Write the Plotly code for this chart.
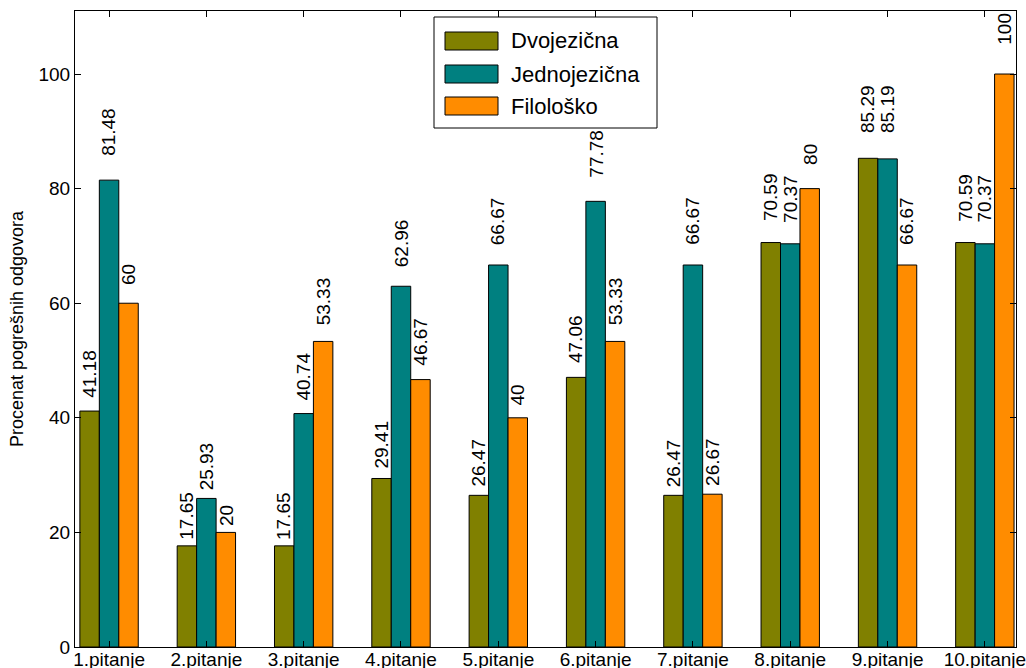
import plotly.graph_objects as go

categories = ["1.pitanje", "2.pitanje", "3.pitanje", "4.pitanje", "5.pitanje",
              "6.pitanje", "7.pitanje", "8.pitanje", "9.pitanje", "10.pitanje"]
dvojezicna = [41.18, 17.65, 17.65, 29.41, 26.47, 47.06, 26.47, 70.59, 85.29, 70.59]
jednojezicna = [81.48, 25.93, 40.74, 62.96, 66.67, 77.78, 66.67, 70.37, 85.19, 70.37]
filolosko = [60, 20, 53.33, 46.67, 40, 53.33, 26.67, 80, 66.67, 100]
y_ticks = [0, 20, 40, 60, 80, 100]
series_names = ["Dvojezična", "Jednojezična", "Filološko"]
series_colors = ["#808000", "#008080", "#FF8C00"]

FONT = "Liberation Sans, Arial, Helvetica, sans-serif"
W, H = 1026, 668
ML, MR, MT, MB = 75, 10, 11, 21
PW, PH = W - ML - MR, H - MT - MB


def px_x(p):
    return (p - ML) / PW


def px_y(p):
    return (H - MB - p) / PH


fig = go.Figure()
annotations = []
shapes = []
offsets = [-0.2, 0.0, 0.2]
all_vals = [dvojezicna, jednojezicna, filolosko]
for name, vals, color, off in zip(series_names, all_vals, series_colors, offsets):
    fig.add_trace(go.Bar(
        x=categories, y=vals, name=name, showlegend=False,
        marker=dict(color=color, line=dict(color="black", width=1)),
    ))
    for i, v in enumerate(vals):
        annotations.append(dict(
            x=i + off, y=v * 1.05, xref="x", yref="y",
            text=f"{v:g}", textangle=-90, showarrow=False,
            xanchor="center", yanchor="bottom", borderpad=0,
            font=dict(family=FONT, size=19, color="black"),
        ))

# legend drawn as a matplotlib-style box
shapes.append(dict(type="rect", xref="paper", yref="paper",
                   x0=px_x(434), x1=px_x(657), y0=px_y(128), y1=px_y(17),
                   line=dict(color="black", width=1), fillcolor="white", layer="above"))
row_centers = [41, 74, 106]
for name, color, cy in zip(series_names, series_colors, row_centers):
    shapes.append(dict(type="rect", xref="paper", yref="paper",
                       x0=px_x(445), x1=px_x(498), y0=px_y(cy + 9), y1=px_y(cy - 9),
                       line=dict(color="black", width=1), fillcolor=color, layer="above"))
    annotations.append(dict(
        x=px_x(509), y=px_y(cy), xref="paper", yref="paper",
        text=name, showarrow=False, xanchor="left", yanchor="middle",
        font=dict(family=FONT, size=22, color="black"),
    ))

fig.update_layout(
    width=W, height=H,
    margin=dict(l=ML, r=MR, t=MT, b=MB),
    paper_bgcolor="white", plot_bgcolor="white",
    barmode="group", bargap=0.4, bargroupgap=0,
    font=dict(family=FONT, size=19, color="black"),
    annotations=annotations, shapes=shapes,
    showlegend=False,
    xaxis=dict(
        range=[-0.35, 9.32], showgrid=False, zeroline=False, automargin=False,
        showline=True, linecolor="black", linewidth=1, mirror="allticks",
        ticks="inside", ticklen=6, tickcolor="black", ticklabelstandoff=-5,
        tickfont=dict(family=FONT, size=19, color="black"),
    ),
    yaxis=dict(
        range=[0, 111], showgrid=False, zeroline=False, automargin=False,
        tickvals=y_ticks,
        showline=True, linecolor="black", linewidth=1, mirror="allticks",
        ticks="inside", ticklen=6, tickcolor="black",
        tickfont=dict(family=FONT, size=19, color="black"),
        title=dict(text="Procenat pogrešnih odgovora", standoff=10,
                   font=dict(family=FONT, size=18, color="black")),
    ),
)

fig.write_html("out.html", config={"displayModeBar": False},
               post_script="document.body.style.margin='0';document.body.style.overflow='hidden';")
